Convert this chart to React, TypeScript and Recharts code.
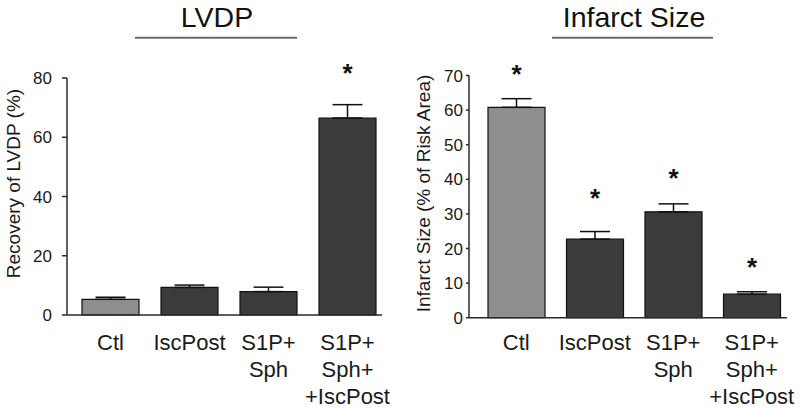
import { ComposedChart, Bar, ErrorBar, LabelList, XAxis, YAxis, Cell } from "recharts";

const GROUPS = ["Ctl", "IscPost", "S1P+\nSph", "S1P+\nSph+\n+IscPost"];

const LVDP_MEAN = [5.3, 9.3, 7.9, 66.5];
const LVDP_SEM = [0.7, 0.8, 1.5, 4.5];
const LVDP_STAR = [null, null, null, 83];
const LVDP_TICKS = [0, 20, 40, 60, 80];

const INFARCT_MEAN = [60.8, 22.7, 30.6, 6.8];
const INFARCT_SEM = [2.5, 2.2, 2.3, 0.7];
const INFARCT_STAR = [71.6, 35.8, 41.6, 15.8];
const INFARCT_TICKS = [0, 10, 20, 30, 40, 50, 60, 70];

const FONT = '"Liberation Sans", Arial, Helvetica, sans-serif';
const LIGHT = "#8e8e8e";
const DARK = "#3b3b3b";

const buildRows = (mean: number[], sem: number[], star: (number | null)[]) =>
  GROUPS.map((g, i) => ({ group: g, mean: mean[i], err: [0, sem[i]], star: star[i] }));

const GroupTick = ({ x, y, payload, dy }: any) => {
  const lines = String(payload.value).split("\n");
  return (
    <text x={x} y={y + dy} textAnchor="middle" fontSize={22} fill="#1a1a1a" fontFamily={FONT}>
      {lines.map((l, i) => (
        <tspan key={i} x={x} dy={i === 0 ? 0 : 27}>
          {l}
        </tspan>
      ))}
    </text>
  );
};

// star drawn at its value, using the bar's own pixel scale (bar height / mean)
const makeStar = (rows: any[]) => (props: any) => {
  const { value, index } = props;
  const vb = props.viewBox || props;
  if (value == null) return null;
  const row = rows[index];
  const base = vb.y + vb.height;
  const perUnit = vb.height / row.mean;
  const cy = base - value * perUnit;
  return (
    <text x={vb.x + vb.width / 2} y={cy + 13} textAnchor="middle" fontSize={26} fontWeight="bold" fill="#111" fontFamily={FONT}>
      *
    </text>
  );
};

interface PanelProps {
  rows: any[];
  ticks: number[];
  yMax: number;
  yLabel: string;
  top: number;
  bottom: number;
  left: number;
  right: number;
  pad: { left: number; right: number };
  tickSize: number;
  tickMargin: number;
  labelX: number;
  labelY: number;
  tickDy: number;
}

const Panel = (p: PanelProps) => (
  <ComposedChart
    width={400}
    height={409}
    data={p.rows}
    margin={{ top: p.top, right: 400 - p.right, bottom: 0, left: 0 }}
    barCategoryGap={0}
  >
    <XAxis
      dataKey="group"
      height={409 - p.bottom}
      tickLine={false}
      tickSize={0}
      tickMargin={0}
      interval={0}
      padding={p.pad}
      stroke="#2a2a2a"
      strokeWidth={1.5}
      tick={<GroupTick dy={p.tickDy} />}
    />
    <YAxis
      width={p.left}
      domain={[0, p.yMax]}
      ticks={p.ticks}
      tickSize={p.tickSize}
      tickMargin={p.tickMargin}
      stroke="#2a2a2a"
      strokeWidth={1.5}
      tick={{ fontSize: 17, fill: "#1a1a1a", fontFamily: FONT }}
      label={{
        value: p.yLabel,
        content: () => (
          <text
            x={p.labelX}
            y={p.labelY}
            transform={`rotate(-90, ${p.labelX}, ${p.labelY})`}
            textAnchor="middle"
            dominantBaseline="central"
            fontSize={19}
            fill="#1a1a1a"
            fontFamily={FONT}
          >
            {p.yLabel}
          </text>
        ),
      }}
    />
    <Bar dataKey="mean" barSize={57} stroke="#111" strokeWidth={1.2} isAnimationActive={false}>
      {p.rows.map((_, i) => (
        <Cell key={i} fill={i === 0 ? LIGHT : DARK} />
      ))}
      <ErrorBar dataKey="err" width={15} stroke="#111" strokeWidth={1.5} direction="y" />
      <LabelList dataKey="star" content={makeStar(p.rows)} />
    </Bar>
  </ComposedChart>
);

export default function App() {
  return (
    <div style={{ position: "absolute", left: 0, top: 0, width: 800, height: 409, background: "#fff", fontFamily: FONT }}>
      <svg width={800} height={409} style={{ position: "absolute", left: 0, top: 0 }}>
        <text x={217} y={26.7} textAnchor="middle" fontSize={28.5} fill="#111" fontFamily={FONT}>
          LVDP
        </text>
        <line x1={135} x2={297} y1={37.7} y2={37.7} stroke="#6a6a6a" strokeWidth={2} />
        <text x={634} y={26.7} textAnchor="middle" fontSize={28.5} fill="#111" fontFamily={FONT}>
          Infarct Size
        </text>
        <line x1={552} x2={713} y1={37.7} y2={37.7} stroke="#6a6a6a" strokeWidth={2} />
      </svg>
      <div style={{ position: "absolute", left: 0, top: 0 }}>
        <Panel
          rows={buildRows(LVDP_MEAN, LVDP_SEM, LVDP_STAR)}
          ticks={LVDP_TICKS}
          yMax={80}
          yLabel="Recovery of LVDP (%)"
          top={78}
          bottom={315}
          left={67}
          right={382}
          pad={{ left: 4, right: -5 }}
          tickSize={5}
          tickMargin={10}
          labelX={13}
          labelY={183.5}
          tickDy={35}
        />
      </div>
      <div style={{ position: "absolute", left: 400, top: 0 }}>
        <Panel
          rows={buildRows(INFARCT_MEAN, INFARCT_SEM, INFARCT_STAR)}
          ticks={INFARCT_TICKS}
          yMax={70}
          yLabel="Infarct Size (% of Risk Area)"
          top={75.5}
          bottom={317.7}
          left={69}
          right={387}
          pad={{ left: 8, right: -4 }}
          tickSize={3}
          tickMargin={3}
          labelX={23}
          labelY={193.5}
          tickDy={32.3}
        />
      </div>
    </div>
  );
}
